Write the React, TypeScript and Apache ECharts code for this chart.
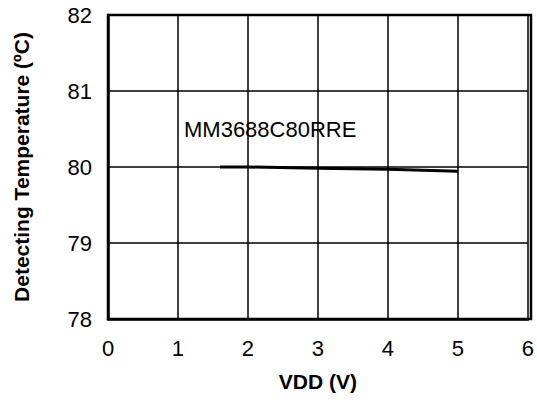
import React, { useEffect, useRef } from "react";
import * as echarts from "echarts";

const vdd = [1.6, 2, 3, 4, 5];
const temp = [80.0, 80.0, 79.985, 79.97, 79.945];
const seriesName = "MM3688C80RRE";
const xTitle = "VDD (V)";
const yTitle = "Detecting Temperature (ºC)";

export default function App() {
  const ref = useRef<HTMLDivElement>(null);
  useEffect(() => {
    const chart = echarts.init(ref.current!, null, { renderer: "svg" });
    const font = "'Liberation Sans', Arial, Helvetica, sans-serif";
    chart.setOption({
      animation: false,
      backgroundColor: "#fff",
      grid: { left: 108, right: 6, top: 15, bottom: 84, containLabel: false },
      xAxis: {
        type: "value",
        min: 0,
        max: 6,
        interval: 1,
        name: xTitle,
        nameLocation: "middle",
        nameGap: 52,
        nameTextStyle: { fontFamily: font, fontSize: 21, fontWeight: "bold", color: "#000" },
        axisLine: { show: true, lineStyle: { color: "#000", width: 2.5 } },
        axisTick: { show: false },
        axisLabel: { fontFamily: font, fontSize: 22, color: "#000", margin: 18 },
        splitLine: { show: true, lineStyle: { color: "#000", width: 1.5 } },
      },
      yAxis: {
        type: "value",
        min: 78,
        max: 82,
        interval: 1,
        name: yTitle,
        nameLocation: "middle",
        nameGap: 76,
        nameTextStyle: { fontFamily: font, fontSize: 21, fontWeight: "bold", color: "#000" },
        axisLine: { show: true, lineStyle: { color: "#000", width: 2.5 } },
        axisTick: { show: false },
        axisLabel: { fontFamily: font, fontSize: 22, color: "#000", margin: 16 },
        splitLine: { show: true, lineStyle: { color: "#000", width: 1.5 } },
      },
      graphic: [
        {
          type: "rect",
          shape: { x: 108, y: 15, width: 423, height: 304 },
          style: { fill: "none", stroke: "#000", lineWidth: 2.5 },
          z: 10,
        },
        {
          type: "text",
          left: 184,
          top: 118,
          style: { text: seriesName, fontFamily: font, fontSize: 22, fill: "#000" },
          z: 10,
        },
      ],
      series: [
        {
          type: "line",
          name: seriesName,
          data: vdd.map((v, i) => [v, temp[i]]),
          showSymbol: false,
          smooth: false,
          lineStyle: { color: "#000", width: 3 },
        },
      ],
    });
    return () => chart.dispose();
  }, []);
  return (
    <div
      ref={ref}
      style={{ position: "fixed", left: 0, top: 0, width: 537, height: 403 }}
    />
  );
}
